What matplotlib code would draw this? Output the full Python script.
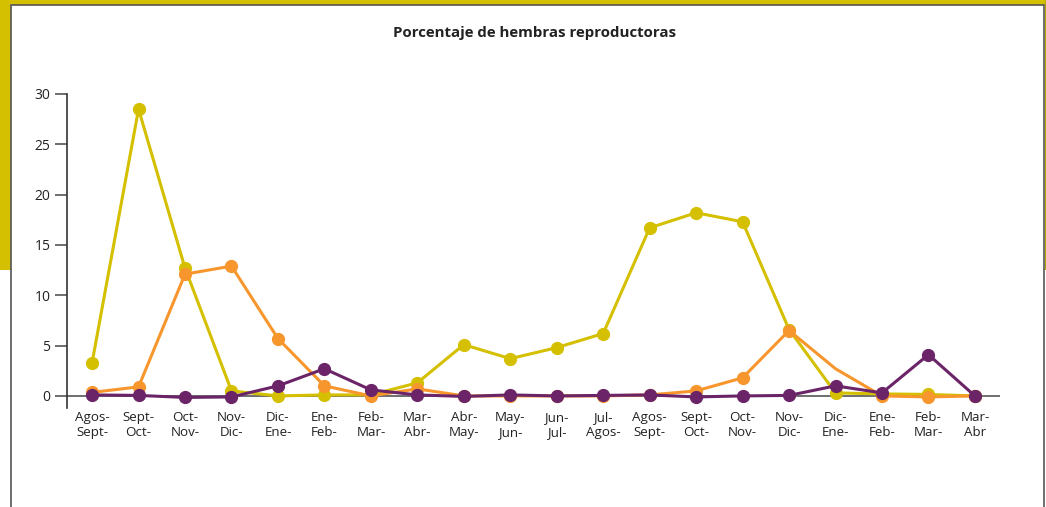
import matplotlib
matplotlib.use("Agg")
import matplotlib.pyplot as plt
from matplotlib.patches import Rectangle
import numpy as np

plt.rcParams['font.family'] = ['Open Sans', 'DejaVu Sans']

periods = ["Agos-\nSept-", "Sept-\nOct-", "Oct-\nNov-", "Nov-\nDic-", "Dic-\nEne-",
           "Ene-\nFeb-", "Feb-\nMar-", "Mar-\nAbr-", "Abr-\nMay-", "May-\nJun-",
           "Jun-\nJul-", "Jul-\nAgos-", "Agos-\nSept-", "Sept-\nOct-", "Oct-\nNov-",
           "Nov-\nDic-", "Dic-\nEne-", "Ene-\nFeb-", "Feb-\nMar-", "Mar-\nAbr"]

serie_amarilla = [3.3, 28.5, 12.7, 0.5, 0.0, 0.1, 0.1, 1.3, 5.1, 3.7,
                  4.8, 6.2, 16.7, 18.2, 17.3, 6.6, 0.3, 0.2, 0.15, 0.0]
serie_naranja = [0.35, 0.9, 12.1, 12.9, 5.7, 1.0, 0.0, 0.7, 0.0, 0.0,
                 0.0, 0.0, 0.1, 0.5, 1.8, 6.5, 2.7, 0.0, -0.1, 0.0]
serie_morada = [0.1, 0.05, -0.15, -0.1, 1.0, 2.7, 0.6, 0.1, -0.05, 0.1,
                0.0, 0.05, 0.1, -0.1, 0.0, 0.05, 1.0, 0.3, 4.1, 0.0]
# points of the orange series drawn without a marker
naranja_sin_marca = [16]

amarillo = "#d4c000"
naranja = "#f7962d"
morado = "#6b2468"

fig = plt.figure(figsize=(10.46, 5.07), dpi=100)

# page frame: yellow bands and grey bordered box
fig.patches.append(Rectangle((0, 0), 1, 1, transform=fig.transFigure,
                             facecolor="white", edgecolor="none", zorder=-10))
fig.patches.append(Rectangle((0, 1 - 5/507), 1, 5/507, transform=fig.transFigure,
                             facecolor=amarillo, edgecolor="none", zorder=-9))
fig.patches.append(Rectangle((0, 1 - 270/507), 11/1046, 270/507, transform=fig.transFigure,
                             facecolor=amarillo, edgecolor="none", zorder=-9))
fig.patches.append(Rectangle((1045/1046, 1 - 270/507), 1/1046, 270/507, transform=fig.transFigure,
                             facecolor="#b8a400", edgecolor="none", zorder=-9))
fig.patches.append(Rectangle((11/1046, -0.05), 1033/1046, 1.05 - 5/507, transform=fig.transFigure,
                             facecolor="white", edgecolor="#555555", linewidth=1.2, zorder=-8))

ax = fig.add_axes([67/1046, 1 - 408/507, (1000 - 67)/1046, (408 - 94)/507])
ax.set_facecolor("none")

x = np.arange(len(periods))
ax.axhline(0, color="#555555", linewidth=1.2, zorder=1)

ax.plot(x, serie_amarilla, color=amarillo, linewidth=2.2, marker="o",
        markersize=8.5, zorder=3)
marcas_naranja = [i for i in range(len(x)) if i not in naranja_sin_marca]
ax.plot(x, serie_naranja, color=naranja, linewidth=2.2, marker="o",
        markersize=8.5, markevery=marcas_naranja, zorder=4)
ax.plot(x, serie_morada, color=morado, linewidth=2.2, marker="o",
        markersize=8.5, zorder=5)

ax.set_xlim(-0.54, 19.54)
ax.set_ylim(-1.2, 30)
ax.set_yticks([0, 5, 10, 15, 20, 25, 30])
ax.tick_params(axis="y", direction="out", length=9, width=1.2, color="#555555",
               labelsize=10, labelcolor="#222222", pad=3)
ax.set_xticks(x)
ax.set_xticklabels(periods, fontsize=9.6, color="#222222", linespacing=1.2)
ax.tick_params(axis="x", length=0, pad=2)

for s in ["top", "right", "bottom"]:
    ax.spines[s].set_visible(False)
ax.spines["left"].set_color("#333333")
ax.spines["left"].set_linewidth(1.2)
ax.spines["left"].set_bounds(-1.2, 30)

fig.text(535/1046, 1 - 33/507, "Porcentaje de hembras reproductoras",
         ha="center", va="center", fontsize=10.8, fontweight="bold", color="#222222")

fig.savefig("out.png", dpi=100)
